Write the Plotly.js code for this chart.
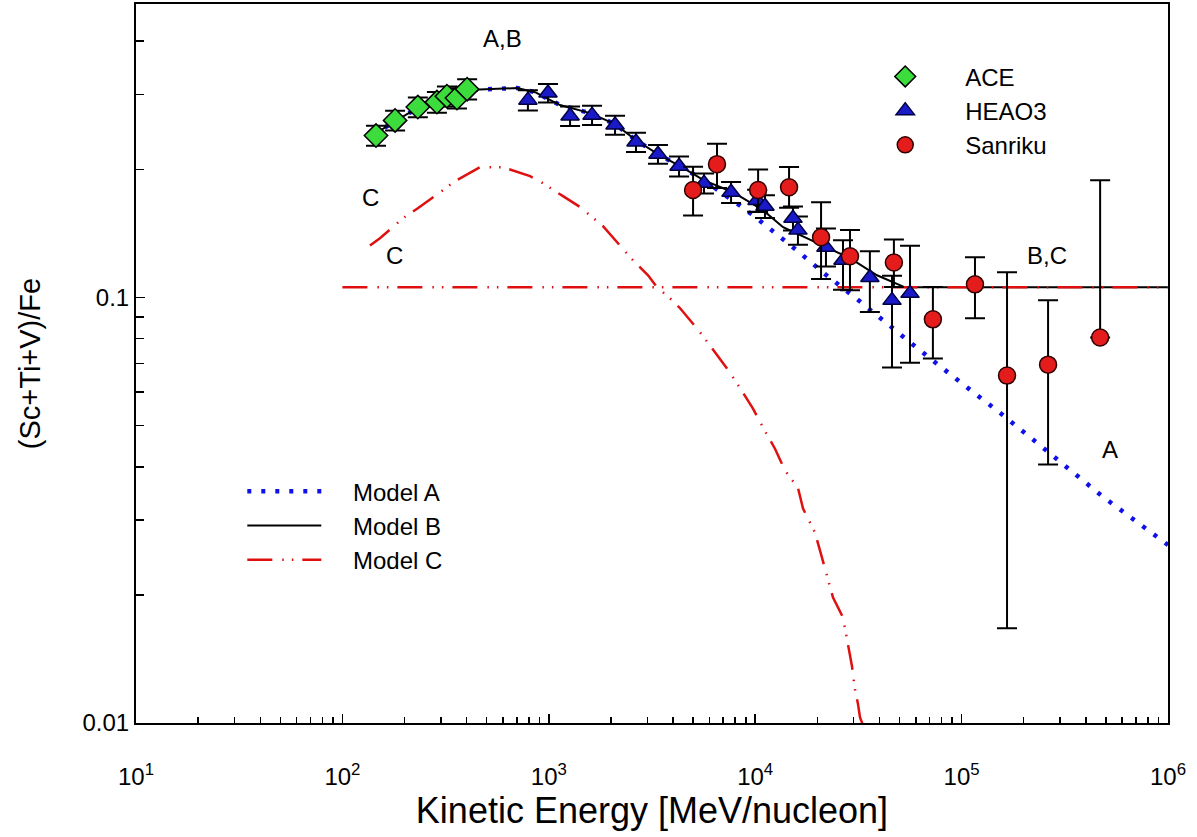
<!DOCTYPE html>
<html>
<head>
<meta charset="utf-8">
<script src="https://cdn.plot.ly/plotly-3.0.1.min.js"></script>
<style>html,body{margin:0;padding:0;background:#fff;}#chart{width:1197px;height:837px;}</style>
</head>
<body>
<div id="chart"></div>
<script>
// ---- Data ----
const aceE = [145.5, 180, 232, 287, 321, 359, 402];
const aceR = [0.240, 0.2605, 0.280, 0.2876, 0.297, 0.294, 0.3085];
const aceErr = [0.013, 0.014, 0.015, 0.016, 0.016, 0.016, 0.017];

const heaoE = [792, 991, 1268, 1620, 2094, 2645, 3380, 4276, 5650, 7640, 10210, 11150, 15240, 16110, 22020, 26630, 35940, 46010, 56240];
const heaoR = [0.2907, 0.302, 0.2667, 0.268, 0.254, 0.2317, 0.217, 0.2033, 0.1854, 0.1766, 0.169, 0.1637, 0.1535, 0.1439, 0.1312, 0.1222, 0.1114, 0.0984, 0.1022];
const heaoErrPlus = [0.016, 0.015, 0.014, 0.014, 0.013, 0.012, 0.011, 0.011, 0.010, 0.010, 0.010, 0.010, 0.010, 0.011, 0.014, 0.014, 0.017, 0.014, 0.030];
const heaoErrMinus = [0.016, 0.015, 0.014, 0.014, 0.013, 0.012, 0.011, 0.011, 0.010, 0.010, 0.010, 0.010, 0.010, 0.011, 0.013, 0.018, 0.019, 0.030, 0.032];

const sanE = [5000, 6530, 10330, 14590, 20850, 28790, 46990, 72600, 116100, 166000, 262400, 469000];
const sanR = [0.1787, 0.2056, 0.1787, 0.1815, 0.1384, 0.1249, 0.1208, 0.0888, 0.1073, 0.0655, 0.0695, 0.0805];
const sanErrPlus = [0.024, 0.024, 0.021, 0.021, 0.029, 0.019, 0.016, 0.017, 0.017, 0.049, 0.029, 0.108];
const sanErrMinus = [0.023, 0.025, 0.020, 0.019, 0.028, 0.021, 0.015, 0.017, 0.018, 0.0488, 0.029, 0];

const modelAE = [140.6, 179.9, 232, 297, 402, 702, 858, 1133, 1585, 2095, 2645, 3455, 4325, 5650, 8430, 9750, 15900, 22000, 30400, 42000, 58000, 95000, 157000, 254000, 484000, 1000000];
const modelAR = [0.2404, 0.2596, 0.2786, 0.294, 0.307, 0.3104, 0.3034, 0.283, 0.271, 0.2553, 0.234, 0.2157, 0.2033, 0.1884, 0.1644, 0.156, 0.129, 0.113, 0.1, 0.0879, 0.0775, 0.0641, 0.0531, 0.0439, 0.034, 0.0262];

const modelBE = [140.6, 179.9, 232, 297, 402, 702, 858, 1133, 1585, 2095, 2645, 3455, 4325, 5650, 7800, 10900, 13650, 17830, 22280, 28790, 38900, 46550, 53200, 1000000];
const modelBR = [0.2404, 0.2596, 0.2786, 0.294, 0.307, 0.3104, 0.3034, 0.283, 0.271, 0.2553, 0.234, 0.2157, 0.2033, 0.1884, 0.1766, 0.1603, 0.1462, 0.1378, 0.1312, 0.1236, 0.1127, 0.1084, 0.1056, 0.1056];

const modelCE = [136, 152, 197, 232, 307, 351, 464, 600, 811, 937, 1172, 1417, 1831, 2047, 2558, 3026, 3345, 3866, 4325, 5406, 6043, 7300, 8163, 9756, 10900, 12470, 13940, 16110, 17050, 19490, 20610, 22540, 23830, 26630, 27860, 29440, 30420, 31460, 32200, 33500];
const modelCR = [0.1324, 0.1377, 0.1536, 0.162, 0.1786, 0.1875, 0.2023, 0.2023, 0.1927, 0.1854, 0.1729, 0.163, 0.147, 0.1384, 0.1222, 0.1127, 0.1056, 0.0995, 0.0943, 0.0828, 0.0771, 0.0681, 0.0628, 0.0548, 0.0495, 0.0441, 0.0392, 0.0357, 0.0319, 0.028, 0.0254, 0.0218, 0.0197, 0.0177, 0.0156, 0.0136, 0.012, 0.0111, 0.0103, 0.0098];

const modelCFlatE = [100, 1000000];
const modelCFlatR = [0.1056, 0.1056];

const xTickVals = [10, 100, 1000, 10000, 100000, 1000000];
const xTickText = ['10<sup>1</sup>', '10<sup>2</sup>', '10<sup>3</sup>', '10<sup>4</sup>', '10<sup>5</sup>', '10<sup>6</sup>'];
const yTickVals = [0.01, 0.1];
const yTickText = ['0.01', '0.1'];

// minor tick positions (axis decoration)
const xMinor = [];
for (let d = 1; d < 6; d++) for (let k = 2; k <= 9; k++) xMinor.push(k * Math.pow(10, d));
const yMinor = [];
for (let k = 2; k <= 9; k++) yMinor.push(k * 0.01);
for (let k = 2; k <= 4; k++) yMinor.push(k * 0.1);

const FONT = 'Liberation Sans, Arial, sans-serif';
const nb = n => '\u00a0'.repeat(n);

const errStyle = {color: 'black', thickness: 2, width: 10};
const cDash = '25px,10px,1.5px,8px,1.5px,9px';

const traces = [
  {x: modelAE, y: modelAR, mode: 'lines', name: nb(4) + 'Model A', legend: 'legend2', legendgroup: 'a',
   line: {color: '#1010e8', width: 4.5, dash: '4px,10px'}},
  {x: modelBE, y: modelBR, mode: 'lines', name: nb(4) + 'Model B', legend: 'legend2', legendgroup: 'b',
   line: {color: 'black', width: 2}},
  {x: modelCE, y: modelCR, mode: 'lines', name: nb(4) + 'Model C', legend: 'legend2', legendgroup: 'c',
   line: {color: '#e01010', width: 2.5, dash: cDash}},
  {x: modelCFlatE, y: modelCFlatR, mode: 'lines', name: 'Model C flat', legend: 'legend2', legendgroup: 'c', showlegend: false,
   line: {color: '#e01010', width: 2.5, dash: cDash}},
  {x: aceE, y: aceR, mode: 'markers', name: nb(6) + 'ACE', legendgroup: 'ace',
   marker: {symbol: 'diamond', size: 18, color: '#3ddc3d', line: {color: 'black', width: 1.5}},
   error_y: Object.assign({type: 'data', array: aceErr, visible: true}, errStyle)},
  {x: heaoE, y: heaoR, mode: 'markers', name: nb(6) + 'HEAO3', legendgroup: 'heao',
   marker: {symbol: 'triangle-up', size: 16, color: '#1a1ac8', line: {color: '#000040', width: 1.5}},
   error_y: Object.assign({type: 'data', symmetric: false, array: heaoErrPlus, arrayminus: heaoErrMinus, visible: true}, errStyle)},
  {x: sanE, y: sanR, mode: 'markers', name: nb(6) + 'Sanriku', legendgroup: 'san',
   marker: {symbol: 'circle', size: 17, color: '#e41c1c', line: {color: '#300000', width: 1.5}},
   error_y: Object.assign({type: 'data', symmetric: false, array: sanErrPlus, arrayminus: sanErrMinus, visible: true}, errStyle)}
];

const axisCommon = {
  showline: true, linewidth: 2, linecolor: 'black', mirror: true,
  ticks: 'inside', ticklen: 9, tickwidth: 1.5, tickcolor: 'black',
  showgrid: false, zeroline: false, tickfont: {family: FONT, size: 24, color: 'black'}
};

const ann = (text, x, y) => ({text: text, x: x, y: y, xref: 'paper', yref: 'paper', showarrow: false,
  font: {family: FONT, size: 24, color: 'black'}, xanchor: 'center', yanchor: 'middle'});

const layout = {
  width: 1197, height: 837,
  margin: {l: 136, r: 29, t: 4, b: 114},
  paper_bgcolor: 'white', plot_bgcolor: 'white',
  font: {family: FONT, color: 'black'},
  showlegend: true,
  xaxis: Object.assign({}, axisCommon, {
    type: 'log', range: [1, 6],
    tickmode: 'array', tickvals: xTickVals, ticktext: xTickText.map(t => '<br>' + t),
    minor: {tickmode: 'array', tickvals: xMinor, ticks: 'inside', ticklen: 6, tickwidth: 1.5, tickcolor: 'black'},
    title: {text: 'Kinetic Energy [MeV/nucleon]', font: {family: FONT, size: 36, color: 'black'}, standoff: 0}
  }),
  yaxis: Object.assign({}, axisCommon, {
    type: 'log', range: [-2, -0.3107],
    tickmode: 'array', tickvals: yTickVals, ticktext: yTickText,
    minor: {tickmode: 'array', tickvals: yMinor, ticks: 'inside', ticklen: 8, tickwidth: 1.5, tickcolor: 'black'},
    title: {text: '(Sc+Ti+V)/Fe', font: {family: FONT, size: 29, color: 'black'}, standoff: 33}
  }),
  legend: {x: 0.726, y: 0.930, xanchor: 'left', yanchor: 'top', bgcolor: 'rgba(0,0,0,0)',
    font: {family: FONT, size: 24, color: 'black'}, traceorder: 'grouped', tracegroupgap: 0, itemwidth: 30},
  legend2: {x: 0.103, y: 0.353, xanchor: 'left', yanchor: 'top', bgcolor: 'rgba(0,0,0,0)',
    font: {family: FONT, size: 24, color: 'black'}, traceorder: 'grouped', tracegroupgap: 0, itemwidth: 74},
  annotations: [
    ann('A,B', 0.3556, 0.9527),
    ann('C', 0.2277, 0.7302),
    ann('C', 0.250, 0.6509),
    ann('B,C', 0.8828, 0.6509),
    ann('A', 0.9438, 0.3797)
  ]
};

Plotly.newPlot('chart', traces, layout, {staticPlot: true, displayModeBar: false});
</script>
</body>
</html>
